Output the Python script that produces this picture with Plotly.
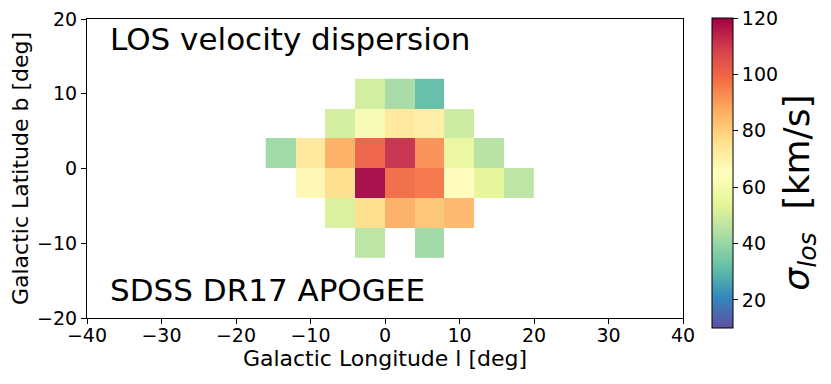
import plotly.graph_objects as go

# bin centres (deg)
lon = [-14, -10, -6, -2, 2, 6, 10, 14, 18]
lat = [-10, -6, -2, 2, 6, 10]

# LOS velocity dispersion per bin (km/s), rows follow lat, None = no data
sigma_b_m10 = [None, None, None, 46, None, 41, None, None, None]
sigma_b_m6 = [None, None, 52, 76, 87, 82, 85, None, None]
sigma_b_m2 = [None, 68, 76, 119, 99, 97, 66, 54, 46]
sigma_b_2 = [41, 73, 87, 101, 112, 92, 56, 45, None]
sigma_b_6 = [None, None, 50, 61, 73, 71, 49, None, None]
sigma_b_10 = [None, None, None, 50, 42, 31, None, None, None]

cbar_ticks = [20, 40, 60, 80, 100, 120]

z = [sigma_b_m10, sigma_b_m6, sigma_b_m2, sigma_b_2, sigma_b_6, sigma_b_10]

font = "DejaVu Sans"

fig = go.Figure()
fig.add_trace(go.Heatmap(
    x=lon, y=lat, z=z,
    colorscale="Spectral_r", zmin=10, zmax=120,
    opacity=0.95,
    colorbar=dict(
        x=1.048, xanchor="left", xpad=0,
        y=1.003, yanchor="top", ypad=0,
        lenmode="pixels", len=310, thickness=21,
        outlinewidth=1, outlinecolor="black",
        tickvals=cbar_ticks, ticks="outside", ticklen=5, tickcolor="black",
        ticklabeloverflow="allow",
        tickfont=dict(family=font, size=19, color="black"),
    ),
))

axis_style = dict(
    showline=True, linecolor="black", linewidth=1, mirror=True,
    ticks="outside", ticklen=5, tickcolor="black", showgrid=False, zeroline=False,
    ticklabeloverflow="allow",
    tickfont=dict(family=font, size=19, color="black"),
)
fig.update_xaxes(range=[-40, 40], dtick=10, ticklabelstandoff=-5,
                 title=dict(text="Galactic Longitude l [deg]", standoff=2,
                            font=dict(family=font, size=22, color="black")),
                 **axis_style)
fig.update_yaxes(range=[-20, 20], dtick=10,
                 title=dict(text="Galactic Latitude b [deg]", standoff=11,
                            font=dict(family=font, size=22, color="black")),
                 **axis_style)

fig.add_annotation(x=0.035, y=1.0, xref="paper", yref="paper", xanchor="left", yanchor="top",
                   text="LOS velocity dispersion", showarrow=False,
                   font=dict(family=font, size=31, color="black"))
fig.add_annotation(x=0.035, y=0.027, xref="paper", yref="paper", xanchor="left", yanchor="bottom",
                   text="SDSS DR17 APOGEE", showarrow=False,
                   font=dict(family=font, size=31, color="black"))
# colour bar label
fig.add_annotation(x=1.195, y=0.42, xref="paper", yref="paper", xanchor="center", yanchor="middle",
                   text="<i>σ<sub>los</sub></i>  [km/s]", textangle=-90, showarrow=False,
                   font=dict(family=font, size=36, color="black"))

# page body has an 8px margin, so pull the figure up/left by that much
fig.update_layout(
    width=831, height=384,
    margin=dict(l=79, r=156, t=11, b=74, autoexpand=False),
    plot_bgcolor="white", paper_bgcolor="white",
    font=dict(family=font, color="black"),
)

fig.write_html("out.html")
